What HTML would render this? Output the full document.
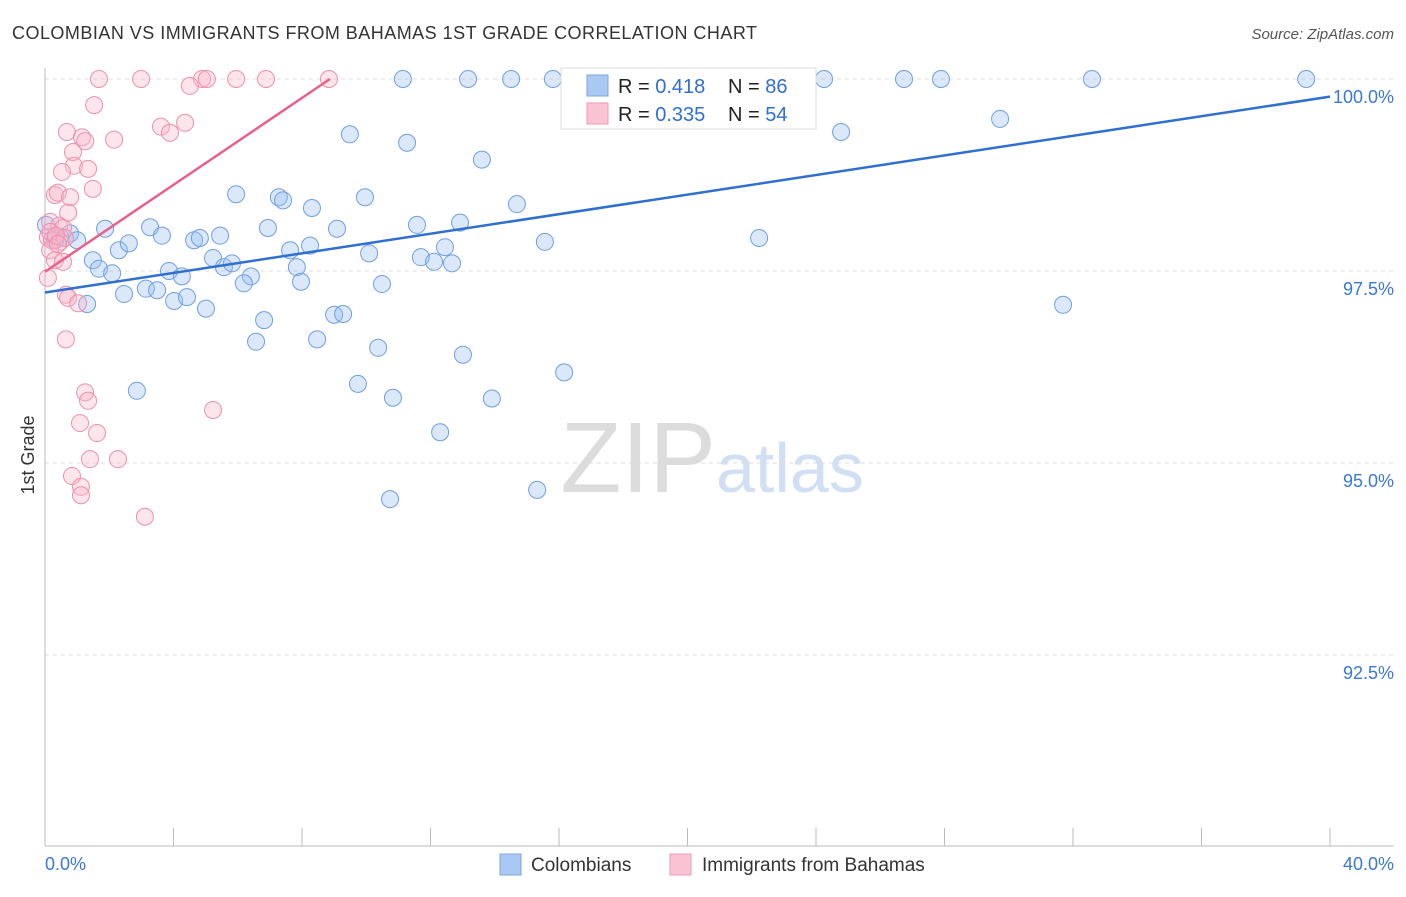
<!DOCTYPE html>
<html><head><meta charset="utf-8"><style>
body{margin:0;background:#fff;font-family:"Liberation Sans",sans-serif;}
svg text{font-family:"Liberation Sans",sans-serif;}
</style></head><body>
<svg id="c" width="1406" height="892" xmlns="http://www.w3.org/2000/svg">
<text x="12" y="39" font-size="18" fill="#333" textLength="745">COLOMBIAN VS IMMIGRANTS FROM BAHAMAS 1ST GRADE CORRELATION CHART</text>
<text x="1394" y="39" font-size="15" fill="#555" font-style="italic" text-anchor="end">Source: ZipAtlas.com</text>
<text x="34" y="455" font-size="18" fill="#333" transform="rotate(-90 34 455)" text-anchor="middle">1st Grade</text>
<text x="716" y="492" font-size="100" fill="#dcdcdc" text-anchor="end" font-family="Liberation Serif">ZIP</text>
<text x="716" y="492" font-size="70" fill="#d0dff3">atlas</text>
<g id="grid"></g><g id="pts"></g><g id="lines"></g>
<g>
<rect x="561" y="68" width="255" height="61" fill="#fff" stroke="#ddd"/>
<rect x="587" y="75" width="21" height="21" fill="#a9c8f2" stroke="#7aa6e0"/>
<rect x="587" y="103" width="21" height="21" fill="#f9c3d3" stroke="#ef9ab4"/>
<text x="618" y="93" font-size="20" fill="#222">R = <tspan fill="#2f6fd0">0.418</tspan></text>
<text x="728" y="93" font-size="20" fill="#222">N = <tspan fill="#2f6fd0">86</tspan></text>
<text x="618" y="121" font-size="20" fill="#222">R = <tspan fill="#2f6fd0">0.335</tspan></text>
<text x="728" y="121" font-size="20" fill="#222">N = <tspan fill="#2f6fd0">54</tspan></text>
</g>
<text x="45" y="870" font-size="18" fill="#3a78d4">0.0%</text>
<text x="1394" y="870" font-size="18" fill="#3a78d4" text-anchor="end">40.0%</text>
<rect x="500" y="854" width="21" height="21" fill="#a9c8f2" stroke="#7aa6e0"/>
<text x="531" y="871" font-size="19" fill="#333">Colombians</text>
<rect x="670" y="854" width="21" height="21" fill="#f9c3d3" stroke="#ef9ab4"/>
<text x="702" y="871" font-size="19" fill="#333">Immigrants from Bahamas</text>
</svg>
<script>
const yTicks=[100,97.5,95,92.5];
const yTickLabels=["100.0%","97.5%","95.0%","92.5%"];
const blueX=[11.14,13.17,14.51,15.81,17.21,19.52,24.25,26.74,27.89,32.59,39.26,9.49,11.27,13.60,24.78,29.73,5.95,7.28,7.41,8.31,9.96,14.69,1.87,3.27,3.64,4.64,4.82,5.45,6.94,9.09,11.58,12.92,12.45,15.56,22.23,0.03,0.47,0.78,1.00,0.31,1.49,1.68,2.09,2.30,2.61,3.86,4.26,5.23,5.57,5.82,6.41,6.19,7.63,8.25,7.84,7.97,10.09,11.70,12.11,12.67,10.49,1.31,2.46,3.14,3.49,4.02,4.42,5.01,6.82,6.57,8.47,9.00,9.28,10.37,13.01,16.16,31.69,2.86,9.74,10.83,13.91,12.30,10.74,15.32];
const blueY=[100,100,100,100,100,100,100,100,100,100,100,99.28,99.17,98.95,99.31,99.48,98.50,98.46,98.42,98.32,98.46,98.37,98.05,98.07,97.96,97.90,97.93,97.96,98.06,98.05,98.10,98.13,97.81,97.88,97.93,98.10,97.94,97.99,97.90,97.90,97.64,97.53,97.47,97.77,97.86,97.50,97.43,97.67,97.55,97.60,97.43,97.34,97.77,97.83,97.55,97.36,97.73,97.68,97.62,97.60,97.33,97.07,97.20,97.27,97.25,97.11,97.16,97.01,96.86,96.58,96.61,96.93,96.94,96.50,96.41,96.18,97.06,95.94,96.03,95.85,95.84,95.40,94.53,94.65];
const pinkX=[1.68,2.99,4.89,5.04,5.95,6.88,8.84,4.51,1.53,0.68,1.15,1.25,2.15,3.61,3.89,4.36,0.87,0.90,1.34,0.53,1.49,0.31,0.40,0.78,0.72,0.16,0.44,0.56,0.09,0.22,0.47,0.62,0.16,0.31,0.56,0.09,0.65,0.72,1.03,0.65,1.25,1.34,1.09,1.62,1.40,2.27,0.84,1.12,1.12,3.11,5.23,0.16,0.34,0.40];
const pinkY=[100,100,100,100,100,100,100,99.91,99.66,99.31,99.24,99.19,99.21,99.38,99.30,99.43,99.05,98.87,98.83,98.79,98.57,98.49,98.52,98.46,98.26,98.14,98.09,98.06,97.94,97.90,97.88,97.93,97.77,97.64,97.62,97.41,97.19,97.15,97.08,96.61,95.92,95.81,95.52,95.39,95.05,95.05,94.83,94.69,94.58,94.30,95.69,98.01,97.96,97.85];
const blueTrend=[97.22,99.77];
const pinkTrend=[97.49,100];
const pinkTrendEndX=8.87;
const NS="http://www.w3.org/2000/svg";
const sx=v=>45+v/40*1285, sy=v=>79+(100-v)*76.8;
function mk(t,a,p){const e=document.createElementNS(NS,t);for(const k in a)e.setAttribute(k,a[k]);p.appendChild(e);return e;}
const grid=document.getElementById('grid');
yTicks.forEach((t,i)=>{
 const l=mk('line',{x1:45,x2:1394,y1:sy(t),y2:sy(t),stroke:'#ddd','stroke-dasharray':'4 4'},grid);
 
 
 const tx=mk('text',{x:1394,y:sy(t)+24,'font-size':18,fill:'#3a78d4','text-anchor':'end'},grid);
 tx.textContent=yTickLabels[i];
 
 
});
const ax=mk('line',{x1:45,x2:45,y1:68,y2:846,stroke:'#bbb'},grid);


const bx=mk('line',{x1:45,x2:1394,y1:846,y2:846,stroke:'#bbb'},grid);


for(let i=0;i<=10;i++){const t=mk('line',{x1:sx(i*4),x2:sx(i*4),y1:828,y2:846,stroke:'#bbb'},grid);
 
 }
const pts=document.getElementById('pts');
blueX.forEach((x,i)=>{const c=mk('circle',{cx:sx(x),cy:sy(blueY[i]),r:8.5,fill:'rgba(150,190,240,0.35)',stroke:'#6f9fe0','stroke-width':1},pts);
 
 });
pinkX.forEach((x,i)=>{const c=mk('circle',{cx:sx(x),cy:sy(pinkY[i]),r:8.5,fill:'rgba(248,180,200,0.35)',stroke:'#ee8fae','stroke-width':1},pts);
 
 });
const lines=document.getElementById('lines');
const bl=mk('line',{x1:sx(0),y1:sy(blueTrend[0]),x2:sx(40),y2:sy(blueTrend[1]),stroke:'#2f6fd0','stroke-width':2.5},lines);


const pl=mk('line',{x1:sx(0),y1:sy(pinkTrend[0]),x2:sx(pinkTrendEndX),y2:sy(pinkTrend[1]),stroke:'#e8608c','stroke-width':2.5},lines);


</script>
</body></html>
